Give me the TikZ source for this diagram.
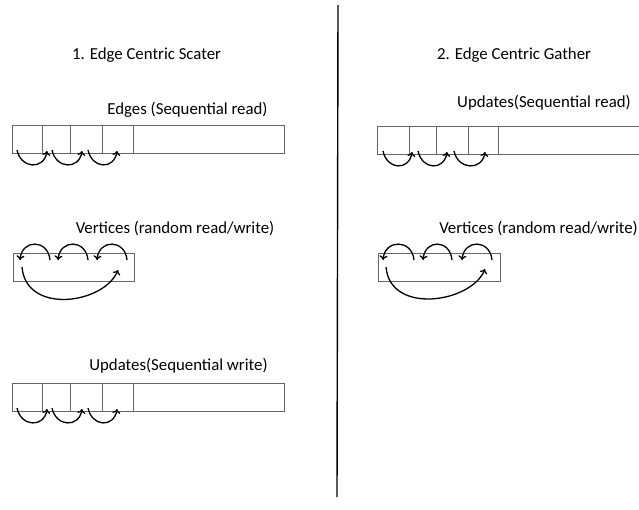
\documentclass[tikz,border=0pt]{standalone}
\usepackage{fontspec}
\setmainfont{Carlito}
\usetikzlibrary{positioning,arrows.meta}

\begin{document}
\begin{tikzpicture}[x=1pt,y=-1pt,
  cell/.style={rectangle,draw=black!60,line width=0.9pt,minimum height=28pt,inner sep=0pt,outer sep=0pt},
  lbl/.style={anchor=base,inner sep=0pt,font=\fontsize{16.8}{20}\selectfont},
  hop/.style={-{To[length=4.5pt,width=8pt]},line width=1.3pt}]
\clip (0,0) rectangle (639,509);

\node (t1) at (146.5,59) [lbl] {1. Edge Centric Scater};
\node (t2) at (514,59) [lbl] {2. Edge Centric Gather};

\node (el) at (187.5,114) [lbl] {Edges (Sequential read)};
\node (vl) at (175,233) [lbl] {Vertices (random read/write)};
\node (ul) at (178.5,370) [lbl] {Updates(Sequential write)};
\node (ur) at (544,107) [lbl] {Updates(Sequential read)};
\node (vr) at (538.5,233) [lbl] {Vertices (random read/write)};

\coordinate (top) at (338,5);
\coordinate (bot) at (337,497);
\draw[line width=1.4pt] (top) -- (bot);

% edges, left
\node (e1) at (12,125) [cell,minimum width=30pt,anchor=north west] {};
\node (e2) [cell,minimum width=28pt,right=0pt of e1] {};
\node (e3) [cell,minimum width=32pt,right=0pt of e2] {};
\node (e4) [cell,minimum width=31pt,right=0pt of e3] {};
\node (e5) [cell,minimum width=151pt,right=0pt of e4] {};

\draw[hop] ([xshift=5pt,yshift=3pt]e1.south west) .. controls +(4,19) and +(-3,19) .. ([xshift=35pt,yshift=2pt]e1.south west);
\draw[hop] ([xshift=40pt,yshift=3pt]e1.south west) .. controls +(4,19) and +(-3,19) .. ([xshift=70pt,yshift=2pt]e1.south west);
\draw[hop] ([xshift=76pt,yshift=3pt]e1.south west) .. controls +(4,19) and +(-3,19) .. ([xshift=105pt,yshift=2pt]e1.south west);

% vertices, left
\node (v1) at (13,253) [cell,minimum width=121pt,anchor=north west] {};

\draw[hop] ([xshift=37pt,yshift=-7pt]v1.north west) .. controls +(-2,-21) and +(2,-21) .. ([xshift=7pt,yshift=-7pt]v1.north west);
\draw[hop] ([xshift=75pt,yshift=-7pt]v1.north west) .. controls +(-2,-21) and +(2,-21) .. ([xshift=45pt,yshift=-7pt]v1.north west);
\draw[hop] ([xshift=114pt,yshift=-7pt]v1.north west) .. controls +(-2,-21) and +(2,-21) .. ([xshift=84pt,yshift=-7pt]v1.north west);
\draw[hop] ([xshift=9pt,yshift=-14pt]v1.north west) .. controls +(4,48) and +(-14,34) .. ([xshift=105pt,yshift=-17pt]v1.north west);

% updates, left
\node (u1) at (12,383) [cell,minimum width=30pt,anchor=north west] {};
\node (u2) [cell,minimum width=28pt,right=0pt of u1] {};
\node (u3) [cell,minimum width=32pt,right=0pt of u2] {};
\node (u4) [cell,minimum width=31pt,right=0pt of u3] {};
\node (u5) [cell,minimum width=151pt,right=0pt of u4] {};

\draw[hop] ([xshift=5pt,yshift=3pt]u1.south west) .. controls +(4,19) and +(-3,19) .. ([xshift=35pt,yshift=2pt]u1.south west);
\draw[hop] ([xshift=40pt,yshift=3pt]u1.south west) .. controls +(4,19) and +(-3,19) .. ([xshift=70pt,yshift=2pt]u1.south west);
\draw[hop] ([xshift=76pt,yshift=3pt]u1.south west) .. controls +(4,19) and +(-3,19) .. ([xshift=105pt,yshift=2pt]u1.south west);

% updates, right
\node (g1) at (377,126) [cell,minimum width=32pt,anchor=north west] {};
\node (g2) [cell,minimum width=27pt,right=0pt of g1] {};
\node (g3) [cell,minimum width=32pt,right=0pt of g2] {};
\node (g4) [cell,minimum width=30pt,right=0pt of g3] {};
\node (g5) [cell,minimum width=170pt,right=0pt of g4] {};

\draw[hop] ([xshift=6pt,yshift=3pt]g1.south west) .. controls +(4,19) and +(-3,19) .. ([xshift=35pt,yshift=2pt]g1.south west);
\draw[hop] ([xshift=41pt,yshift=3pt]g1.south west) .. controls +(4,19) and +(-3,19) .. ([xshift=70pt,yshift=2pt]g1.south west);
\draw[hop] ([xshift=77pt,yshift=3pt]g1.south west) .. controls +(4,19) and +(-3,19) .. ([xshift=108pt,yshift=2pt]g1.south west);

% vertices, right
\node (w1) at (378,253) [cell,minimum width=122pt,anchor=north west] {};

\draw[hop] ([xshift=36pt,yshift=-7pt]w1.north west) .. controls +(-2,-21) and +(2,-21) .. ([xshift=5pt,yshift=-7pt]w1.north west);
\draw[hop] ([xshift=74pt,yshift=-7pt]w1.north west) .. controls +(-2,-21) and +(2,-21) .. ([xshift=45pt,yshift=-7pt]w1.north west);
\draw[hop] ([xshift=114pt,yshift=-7pt]w1.north west) .. controls +(-2,-21) and +(2,-21) .. ([xshift=84pt,yshift=-7pt]w1.north west);
\draw[hop] ([xshift=8pt,yshift=-14pt]w1.north west) .. controls +(4,48) and +(-14,34) .. ([xshift=107pt,yshift=-16pt]w1.north west);

\end{tikzpicture}
\end{document}
